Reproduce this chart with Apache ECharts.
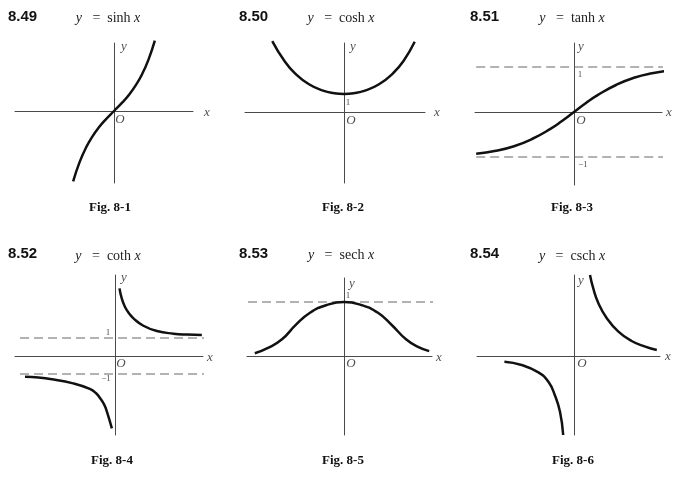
<!DOCTYPE html>
<html>
<head>
<meta charset="utf-8">
<script src="https://cdn.jsdelivr.net/npm/echarts@6/dist/echarts.min.js"></script>
<style>
  html, body { margin: 0; background: #fff; }
  #chart { width: 677px; height: 483px; }
</style>
</head>
<body>
<div id="chart"></div>
<script>
// curve points, [x, y] in each plot's own units
const sinhPts = [[-1.9, -3.27], [-1.6, -2.38], [-1.3, -1.7], [-1.0, -1.18], [-0.7, -0.76], [-0.4, -0.41], [0, 0],
  [0.4, 0.41], [0.7, 0.76], [1.0, 1.18], [1.3, 1.7], [1.6, 2.38], [1.9, 3.27]];
const coshPts = [[-2.05, 3.94], [-1.7, 2.83], [-1.4, 2.15], [-1.0, 1.54], [-0.6, 1.19], [-0.3, 1.05], [0, 1],
  [0.3, 1.05], [0.6, 1.19], [1.0, 1.54], [1.4, 2.15], [1.7, 2.83], [2.02, 3.9]];
const tanhPts = [[-1.63, -0.93], [-1.3, -0.86], [-1.0, -0.76], [-0.7, -0.6], [-0.4, -0.38], [-0.2, -0.2], [0, 0],
  [0.2, 0.2], [0.4, 0.38], [0.7, 0.6], [1.0, 0.76], [1.3, 0.86], [1.6, 0.92]];
const cothRight = [[0.1, 3.76], [0.15, 3.2], [0.22, 2.74], [0.31, 2.38], [0.41, 2.09], [0.63, 1.68], [0.93, 1.39],
  [1.3, 1.24], [1.6, 1.19], [1.93, 1.17]];
const cothLeft = [[-2.0, -1.15], [-1.7, -1.2], [-1.44, -1.28], [-0.93, -1.52], [-0.56, -1.83], [-0.42, -2.07],
  [-0.33, -2.35], [-0.24, -2.7], [-0.18, -3.09], [-0.07, -4.02]];
const sechPts = [[-2.23, 0.05], [-1.9, 0.15], [-1.55, 0.31], [-1.2, 0.58], [-0.85, 0.8], [-0.45, 0.94], [0, 1],
  [0.45, 0.94], [0.85, 0.8], [1.2, 0.57], [1.55, 0.31], [1.85, 0.17], [2.13, 0.09]];
const cschRight = [[0.4, 4.05], [0.48, 3.39], [0.61, 2.64], [0.82, 1.89], [1.11, 1.22], [1.44, 0.75], [1.78, 0.47], [2.07, 0.3]];
const cschLeft = [[-1.74, -0.29], [-1.31, -0.45], [-0.89, -0.82], [-0.64, -1.29], [-0.48, -1.95], [-0.35, -2.79], [-0.27, -3.95]];

// dashed asymptotes
const tanhTop = [[-1.63, 1], [1.6, 1]];
const tanhBottom = [[-1.63, -1], [1.6, -1]];
const cothTop = [[-2.11, 1], [2.16, 1]];
const cothBottom = [[-2.11, -1], [2.16, -1]];
const sechTop = [[-2.4, 1], [2.4, 1]];

const numbers = ['8.49', '8.50', '8.51', '8.52', '8.53', '8.54'];
const funcs = ['sinh', 'cosh', 'tanh', 'coth', 'sech', 'csch'];
const figs = ['Fig. 8-1', 'Fig. 8-2', 'Fig. 8-3', 'Fig. 8-4', 'Fig. 8-5', 'Fig. 8-6'];

// layout: axis box in px, where the origin sits, px per unit
const panels = [
  { box: [15, 43, 193, 183], origin: [114, 111], unit: [21.5, 21.5], curves: [sinhPts], dashed: [],
    ticks: [], off: { x: [14, 2], y: [10, 4], o: [6, 9] } },
  { box: [245, 43, 425, 183], origin: [344, 112], unit: [35, 18], curves: [coshPts], dashed: [],
    ticks: [[1, '1', [4, 9]]], off: { x: [12, 1], y: [9, 4], o: [7, 9] } },
  { box: [475, 43, 662, 185], origin: [574, 112], unit: [60, 45], curves: [tanhPts], dashed: [tanhTop, tanhBottom],
    ticks: [[1, '1', [6, 8]], [-1, '\u22121', [9, 8]]], off: { x: [7, 1], y: [7, 4], o: [7, 9] } },
  { box: [15, 275, 203, 435], origin: [115, 356], unit: [45, 18], curves: [cothRight, cothLeft], dashed: [cothTop, cothBottom],
    ticks: [[1, '1', [-7, -5]], [-1, '\u22121', [-9, 5]]], off: { x: [7, 2], y: [9, 3], o: [6, 8] } },
  { box: [247, 278, 432, 435], origin: [344, 356], unit: [40, 54], curves: [sechPts], dashed: [sechTop],
    ticks: [[1, '1', [4, -6]]], off: { x: [7, 2], y: [8, 6], o: [7, 8] } },
  { box: [477, 275, 660, 435], origin: [574, 356], unit: [40, 20], curves: [cschRight, cschLeft], dashed: [],
    ticks: [], off: { x: [8, 1], y: [7, 6], o: [8, 8] } }
];
const numPos = [[8, 17], [239, 17], [470, 17], [8, 254], [239, 254], [470, 254]];
const funcPos = [[108, 18], [341, 18], [572, 18], [108, 256], [341, 255], [572, 256]];
const figPos = [[110, 208], [343, 208], [572, 208], [112, 461], [343, 461], [573, 461]];

const serif = '"Liberation Serif", "DejaVu Serif", serif';
const axisColor = '#4a4a4a';
const grid = [], xAxis = [], yAxis = [], series = [], graphic = [];

panels.forEach((p, i) => {
  const [l, t, r, b] = p.box;
  const xmin = (l - p.origin[0]) / p.unit[0];
  const xmax = (r - p.origin[0]) / p.unit[0];
  const ymax = (p.origin[1] - t) / p.unit[1];
  const ymin = (p.origin[1] - b) / p.unit[1];
  grid.push({ left: l, top: t, width: r - l, height: b - t });
  const ax = {
    type: 'value',
    gridIndex: i,
    axisLine: { onZero: true, lineStyle: { color: axisColor, width: 1 } },
    axisTick: { show: false },
    axisLabel: { show: false },
    splitLine: { show: false }
  };
  xAxis.push(Object.assign({}, ax, { min: xmin, max: xmax }));
  yAxis.push(Object.assign({}, ax, { min: ymin, max: ymax }));

  p.dashed.forEach(d => {
    series.push({
      type: 'line', xAxisIndex: i, yAxisIndex: i, data: d, symbol: 'none', clip: false, silent: true,
      lineStyle: { color: '#666', width: 1, type: [9, 5] }
    });
  });
  p.curves.forEach(c => {
    series.push({
      type: 'line', xAxisIndex: i, yAxisIndex: i, data: c, symbol: 'none', clip: false, silent: true,
      smooth: 0.5,
      lineStyle: { color: '#111', width: 2.5 }
    });
  });

  // axis letters and tick numbers
  const lab = (value, text, offset, size) => ({
    value: value,
    label: { show: true, formatter: text, offset: offset, fontSize: size || 12 }
  });
  const marks = [
    lab([xmax, 0], '{i|x}', p.off.x),
    lab([0, ymax], '{i|y}', p.off.y),
    lab([0, 0], '{i|O}', p.off.o)
  ];
  p.ticks.forEach(tk => marks.push(lab([0, tk[0]], tk[1], tk[2], 9)));
  series.push({
    type: 'scatter', xAxisIndex: i, yAxisIndex: i, symbolSize: 0, silent: true, clip: false,
    data: marks,
    label: {
      show: true, position: 'inside', color: '#222', fontFamily: serif,
      align: 'center', verticalAlign: 'middle',
      rich: { i: { fontStyle: 'italic', fontFamily: serif, fontSize: 13, color: '#222' } }
    }
  });

  graphic.push({
    type: 'text', x: numPos[i][0], y: numPos[i][1],
    style: { text: numbers[i], font: 'bold 15px "Liberation Sans", Arial, sans-serif', fill: '#111', verticalAlign: 'middle' }
  });
  graphic.push({
    type: 'text', x: funcPos[i][0], y: funcPos[i][1],
    style: {
      text: '{i|y}   =  ' + funcs[i] + ' {i|x}', font: '14px ' + serif, fill: '#222',
      align: 'center', verticalAlign: 'middle',
      rich: { i: { fontStyle: 'italic', fontSize: 14, fontFamily: serif, fill: '#222' } }
    }
  });
  graphic.push({
    type: 'text', x: figPos[i][0], y: figPos[i][1],
    style: { text: figs[i], font: 'bold 13px ' + serif, fill: '#111', align: 'center', verticalAlign: 'middle' }
  });
});

const chart = echarts.init(document.getElementById('chart'));
chart.setOption({
  backgroundColor: '#fff',
  animation: false,
  grid: grid,
  xAxis: xAxis,
  yAxis: yAxis,
  series: series,
  graphic: graphic
});
</script>
</body>
</html>
